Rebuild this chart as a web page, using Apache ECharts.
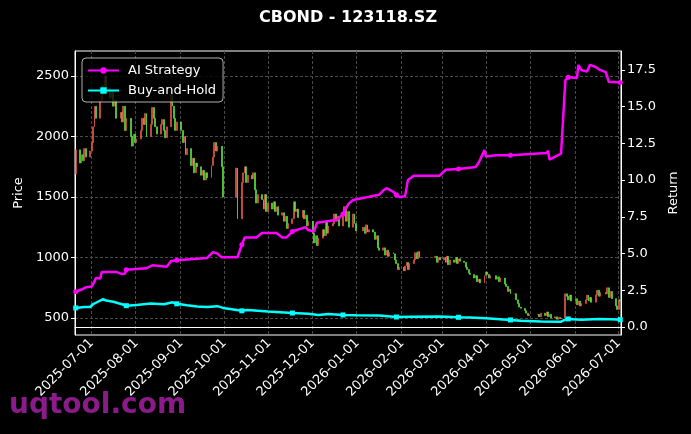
<!DOCTYPE html>
<html>
<head>
<meta charset="utf-8">
<script src="https://cdn.jsdelivr.net/npm/echarts@6/dist/echarts.min.js"></script>
<style>
  html, body { margin: 0; background: #000; }
  #chart { width: 691px; height: 434px; }
</style>
</head>
<body>
<div id="chart"></div>
<script>
// calendar span of the x axis and exchange holidays (no candles)
const firstDay = '2025-06-20';
const lastDay = '2026-07-02';
const holidays = ['2025-10-01', '2025-10-02', '2025-10-03', '2025-10-06', '2025-10-07', '2025-10-08',
  '2026-01-01', '2026-01-02', '2026-02-16', '2026-02-17', '2026-02-18', '2026-02-19', '2026-02-20',
  '2026-02-23', '2026-04-06', '2026-05-01', '2026-05-04', '2026-05-05', '2026-06-19'];

// daily closes per month (open = previous close)
const firstOpen = 1690;
const closeJun25 = [1890, 1780, 1850, 1800, 1900, 1830, 1880];
const closeJul25 = [1950, 2080, 2250, 2150, 2300, 2420, 2350, 2500, 2400, 2320, 2380, 2250, 2300, 2150, 2200, 2120, 2250, 2050, 2150, 2000, 1920, 2020, 1950];
const closeAug25 = [1980, 2050, 2150, 2100, 2190, 2000, 2100, 2240, 2150, 2080, 2020, 2100, 2140, 2050, 1990, 2080, 2350, 2250, 2150, 2050, 2120];
const closeSep25 = [2050, 1950, 2000, 1850, 1900, 1760, 1820, 1700, 1780, 1750, 1680, 1720, 1640, 1700, 1660, 1760, 1830, 1950, 1880, 1920, 1750, 1500];
const closeOct25 = [1740, 1320, 1620, 1700, 1750, 1620, 1680, 1650, 1700, 1560, 1450, 1520, 1480, 1400, 1520, 1380, 1450];
const closeNov25 = [1400, 1460, 1380, 1420, 1350, 1370, 1300, 1340, 1240, 1280, 1320, 1460, 1380, 1400, 1330, 1390, 1320, 1350, 1260, 1300];
const closeDec25 = [1200, 1120, 1180, 1100, 1160, 1230, 1180, 1300, 1200, 1260, 1280, 1360, 1300, 1340, 1260, 1350, 1420, 1300, 1380, 1250, 1360, 1280, 1220];
const closeJan26 = [1250, 1200, 1270, 1210, 1230, 1210, 1150, 1180, 1080, 1060, 1080, 1020, 1060, 1010, 1040, 1030, 980, 950, 900, 920];
const closeFeb26 = [890, 930, 960, 900, 950, 980, 1040, 990, 1050, 1000, 1010, 960, 1000, 980];
const closeMar26 = [1000, 960, 1010, 940, 980, 960, 1000, 950, 990, 970, 960, 920, 900, 870, 860, 830, 850, 800, 820, 790, 850, 880];
const closeApr26 = [860, 830, 850, 820, 840, 800, 830, 780, 760, 720, 740, 700, 700, 650, 620, 590, 580, 560, 540, 520, 530];
const closeMay26 = [530, 510, 540, 520, 550, 510, 530, 500, 510, 490, 505, 495, 500, 700, 680, 650, 690, 640];
const closeJun26 = [660, 610, 640, 600, 620, 650, 690, 640, 670, 630, 690, 730, 680, 710, 700, 750, 670, 720, 660, 600, 570];
const closeJul26 = [650, 640];

const aiPoints = [
  ['2025-06-20', 2.4], ['2025-06-24', 2.55], ['2025-06-27', 2.7], ['2025-07-01', 2.75], ['2025-07-03', 3.1],
  ['2025-07-04', 3.34], ['2025-07-07', 3.3], ['2025-07-08', 3.75], ['2025-07-18', 3.75], ['2025-07-22', 3.6],
  ['2025-07-24', 3.62], ['2025-07-25', 3.9], ['2025-08-08', 4.0], ['2025-08-12', 4.2], ['2025-08-22', 4.1],
  ['2025-08-25', 4.5], ['2025-08-29', 4.55], ['2025-09-19', 4.7], ['2025-09-23', 5.1], ['2025-09-26', 5.0],
  ['2025-09-29', 4.75], ['2025-10-10', 4.75], ['2025-10-13', 5.6], ['2025-10-15', 6.1], ['2025-10-23', 6.1],
  ['2025-10-27', 6.4], ['2025-11-06', 6.4], ['2025-11-10', 6.1], ['2025-11-13', 6.1], ['2025-11-17', 6.5],
  ['2025-11-26', 6.8], ['2025-11-28', 6.6], ['2025-12-02', 6.5], ['2025-12-04', 7.1], ['2025-12-18', 7.3],
  ['2025-12-22', 7.7], ['2025-12-26', 8.4], ['2025-12-29', 8.65], ['2026-01-16', 9.0], ['2026-01-19', 9.3],
  ['2026-01-21', 9.45], ['2026-01-26', 9.2], ['2026-01-28', 9.0], ['2026-01-30', 8.85], ['2026-02-03', 8.9],
  ['2026-02-05', 10.0], ['2026-02-09', 10.3], ['2026-02-27', 10.3], ['2026-03-03', 10.7], ['2026-03-12', 10.75],
  ['2026-03-24', 10.9], ['2026-03-26', 11.2], ['2026-03-27', 11.4], ['2026-03-30', 12.05], ['2026-03-31', 11.6],
  ['2026-04-07', 11.7], ['2026-04-17', 11.7], ['2026-05-12', 11.85], ['2026-05-13', 12.0], ['2026-05-14', 11.4],
  ['2026-05-18', 11.6], ['2026-05-22', 11.8], ['2026-05-25', 16.8], ['2026-05-27', 17.0], ['2026-06-02', 16.95],
  ['2026-06-03', 17.85], ['2026-06-05', 17.5], ['2026-06-09', 17.4], ['2026-06-11', 17.85], ['2026-06-15', 17.7],
  ['2026-06-18', 17.5], ['2026-06-22', 17.35], ['2026-06-24', 16.7], ['2026-07-02', 16.65]
];
const bhPoints = [
  ['2025-06-20', 1.3], ['2025-06-26', 1.36], ['2025-06-30', 1.36], ['2025-07-02', 1.55], ['2025-07-04', 1.65],
  ['2025-07-09', 1.9], ['2025-07-11', 1.8], ['2025-07-16', 1.72], ['2025-07-22', 1.55], ['2025-07-25', 1.45],
  ['2025-08-01', 1.5], ['2025-08-11', 1.6], ['2025-08-20', 1.55], ['2025-08-26', 1.68], ['2025-08-29', 1.58],
  ['2025-09-05', 1.48], ['2025-09-12', 1.4], ['2025-09-19', 1.36], ['2025-09-26', 1.42], ['2025-09-30', 1.3],
  ['2025-10-13', 1.1], ['2025-10-17', 1.15], ['2025-10-31', 1.05], ['2025-11-17', 0.95], ['2025-11-28', 0.9],
  ['2025-12-05', 0.82], ['2025-12-12', 0.88], ['2025-12-22', 0.82], ['2025-12-31', 0.8], ['2026-01-16', 0.78],
  ['2026-01-28', 0.68], ['2026-02-06', 0.7], ['2026-02-27', 0.72], ['2026-03-12', 0.66], ['2026-03-20', 0.64],
  ['2026-03-31', 0.6], ['2026-04-17', 0.48], ['2026-04-24', 0.42], ['2026-05-08', 0.38], ['2026-05-22', 0.36],
  ['2026-05-26', 0.55], ['2026-05-27', 0.55], ['2026-06-05', 0.5], ['2026-06-17', 0.55], ['2026-06-26', 0.53],
  ['2026-07-02', 0.5]
];

const priceTicks = [500, 1000, 1500, 2000, 2500];
const returnTicks = [0, 2.5, 5, 7.5, 10, 12.5, 15, 17.5];

const FONT = 'DejaVu Sans';
const UP = '#f25a4c';
const DOWN = '#62ee42';
const GRID_LINE = { color: '#4a4a4a', type: [3, 2], width: 1 };

// every calendar day is a category so gaps show like a date axis
const days = [];
for (let t = Date.parse(firstDay + 'T00:00:00Z'); t <= Date.parse(lastDay + 'T00:00:00Z'); t += 86400000) {
  days.push(new Date(t).toISOString().slice(0, 10));
}
const tradingDays = days.filter(d => {
  const wd = new Date(d + 'T00:00:00Z').getUTCDay();
  return wd !== 0 && wd !== 6 && holidays.indexOf(d) < 0;
});

const months = [['2025-06', closeJun25], ['2025-07', closeJul25], ['2025-08', closeAug25], ['2025-09', closeSep25],
  ['2025-10', closeOct25], ['2025-11', closeNov25], ['2025-12', closeDec25], ['2026-01', closeJan26],
  ['2026-02', closeFeb26], ['2026-03', closeMar26], ['2026-04', closeApr26], ['2026-05', closeMay26],
  ['2026-06', closeJun26], ['2026-07', closeJul26]];

const candles = [];
let prev = firstOpen;
months.forEach(([m, closes]) => {
  const mDays = tradingDays.filter(d => d.startsWith(m));
  closes.forEach((c, i) => {
    if (i >= mDays.length) return;
    candles.push([days.indexOf(mDays[i]), prev, c, Math.min(prev, c), Math.max(prev, c)]);
    prev = c;
  });
});

// markers every 25 trading days
const markerSet = new Set(tradingDays.filter((d, i) => i % 25 === 0));
const markerSize = (v, p) => markerSet.has(p.data[0]) ? 5 : 0;
const monthStart = (i, v) => v.endsWith('-01');

const myChart = echarts.init(document.getElementById('chart'));
const option = {
  backgroundColor: '#000',
  animation: false,
  title: {
    text: 'CBOND - 123118.SZ',
    left: 348, top: 10, padding: 0, textAlign: 'center',
    textStyle: { color: '#fff', fontSize: 16, fontWeight: 'bold', fontFamily: FONT }
  },
  legend: {
    orient: 'vertical', left: 82, top: 58,
    padding: [6, 7, 5, 5],
    itemWidth: 31, itemHeight: 8, itemGap: 7,
    backgroundColor: 'rgba(0,0,0,0.8)',
    borderColor: 'rgba(204,204,204,0.85)', borderWidth: 1, borderRadius: 4,
    textStyle: { color: '#fff', fontSize: 13, fontFamily: FONT, padding: [0, 0, 0, 4] },
    data: ['AI Strategy', 'Buy-and-Hold']
  },
  grid: { left: 75, right: 70, top: 51, bottom: 99, show: true, backgroundColor: 'transparent',
    borderColor: '#fff', borderWidth: 1 },
  xAxis: {
    type: 'category', data: days, boundaryGap: true,
    axisLine: { lineStyle: { color: '#fff' } },
    axisTick: { alignWithLabel: true, interval: monthStart, length: 4, lineStyle: { color: '#fff' } },
    axisLabel: { interval: monthStart, rotate: 45, color: '#fff', fontSize: 13, fontFamily: FONT, margin: 6 },
    splitLine: { show: true, interval: monthStart, lineStyle: GRID_LINE }
  },
  yAxis: [{
    type: 'value', position: 'left', min: 359.5, max: 2706.6,
    name: 'Price', nameLocation: 'middle', nameGap: 50,
    nameTextStyle: { color: '#fff', fontSize: 13, fontFamily: FONT },
    axisLine: { show: true, lineStyle: { color: '#fff' } },
    axisTick: { show: true, length: 4, lineStyle: { color: '#fff' }, customValues: priceTicks },
    axisLabel: { color: '#fff', fontSize: 13, fontFamily: FONT, margin: 6, customValues: priceTicks,
      formatter: v => String(v) },
    splitLine: { show: true, lineStyle: GRID_LINE }
  }, {
    type: 'value', position: 'right', min: -0.545, max: 18.79,
    name: 'Return', nameLocation: 'middle', nameGap: 44,
    nameTextStyle: { color: '#fff', fontSize: 13, fontFamily: FONT },
    axisLine: { show: true, lineStyle: { color: '#fff' } },
    axisTick: { show: true, length: 4, lineStyle: { color: '#fff' }, customValues: returnTicks },
    axisLabel: { color: '#fff', fontSize: 13, fontFamily: FONT, margin: 6, customValues: returnTicks,
      formatter: v => v.toFixed(1) },
    splitLine: { show: false }
  }],
  series: [{
    type: 'candlestick', name: 'Price', data: candles, barWidth: 1.4,
    dimensions: ['day', 'open', 'close', 'lowest', 'highest'],
    encode: { x: 0, y: [1, 2, 3, 4] },
    itemStyle: { color: UP, color0: DOWN, borderColor: UP, borderColor0: DOWN, borderWidth: 0.6 }
  }, {
    type: 'line', name: 'AI Strategy', yAxisIndex: 1, data: aiPoints,
    symbol: 'circle', symbolSize: markerSize, showSymbol: true, showAllSymbol: true,
    lineStyle: { width: 2.5, color: '#ff00ff' }, itemStyle: { color: '#ff00ff' }, z: 3
  }, {
    type: 'line', name: 'Buy-and-Hold', yAxisIndex: 1, data: bhPoints,
    symbol: 'rect', symbolSize: markerSize, showSymbol: true, showAllSymbol: true,
    lineStyle: { width: 2.5, color: '#00ffff' }, itemStyle: { color: '#00ffff' }, z: 3
  }],
  graphic: [{
    type: 'text', left: 9, top: 392, z: -10,
    style: { text: 'uqtool.com', fill: '#8b1a8b', font: 'bold 28px "DejaVu Sans"' }
  }]
};
myChart.setOption(option, true);
</script>
</body>
</html>
